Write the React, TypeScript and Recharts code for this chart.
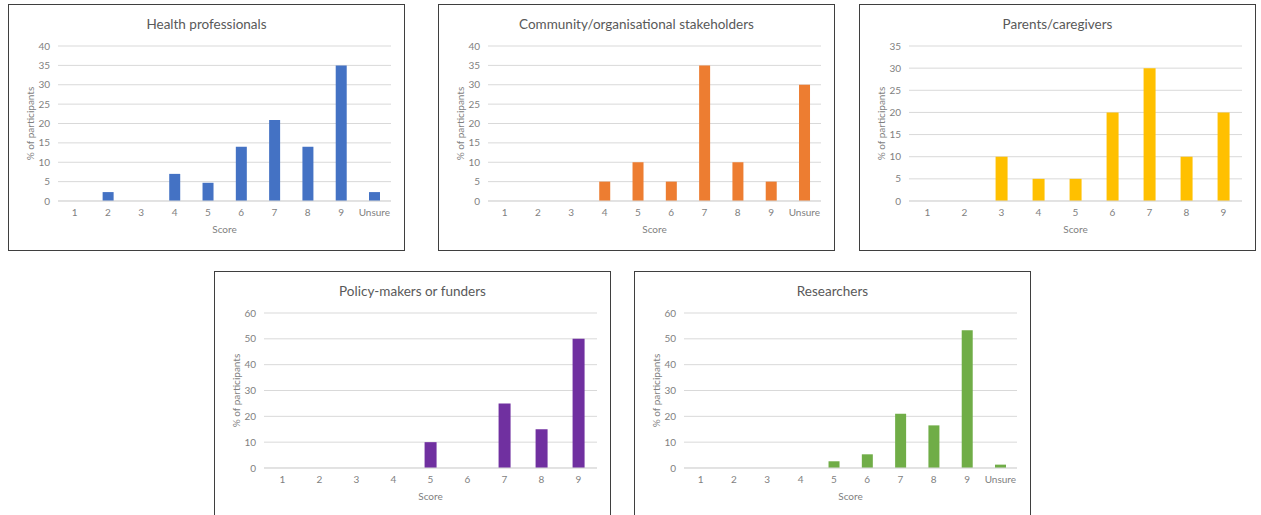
import React from 'react';
import { BarChart, Bar, XAxis, YAxis, CartesianGrid, Label } from 'recharts';

const scoresWithUnsure = ['1', '2', '3', '4', '5', '6', '7', '8', '9', 'Unsure'];
const scoresNoUnsure = ['1', '2', '3', '4', '5', '6', '7', '8', '9'];

const healthValues = [0, 2.3, 0, 7, 4.7, 14, 20.9, 14, 35, 2.3];
const communityValues = [0, 0, 0, 5, 10, 5, 35, 10, 5, 30];
const parentsValues = [0, 0, 10, 5, 5, 20, 30, 10, 20];
const policyValues = [0, 0, 0, 0, 10, 0, 25, 15, 50];
const researcherValues = [0, 0, 0, 0, 2.6, 5.3, 21, 16.5, 53.3, 1.3];

const ticks40 = [0, 5, 10, 15, 20, 25, 30, 35, 40];
const ticks35 = [0, 5, 10, 15, 20, 25, 30, 35];
const ticks60 = [0, 10, 20, 30, 40, 50, 60];

const FONT = 'Lato, "Noto Sans", sans-serif';
const PANEL_W = 397;
const PANEL_H = 247;
const CHART_W = PANEL_W - 2;
const CHART_H = PANEL_H - 2;

type PanelProps = {
  title: string;
  categories: string[];
  values: number[];
  color: string;
  ticks: number[];
  left: number;
  top: number;
};

const YTitle = (props: any) => {
  const vb = props.viewBox || {};
  const cx = 21;
  const cy = (vb.y || 0) + (vb.height || 0) / 2;
  return (
    <text
      x={cx}
      y={cy}
      transform={`rotate(-90, ${cx}, ${cy})`}
      textAnchor="middle"
      dominantBaseline="central"
      fill="#7f7f7f"
      fontSize={10}
      fontFamily={FONT}
    >
      % of participants
    </text>
  );
};

const Panel = ({ title, categories, values, color, ticks, left, top }: PanelProps) => {
  const data = categories.map((c, i) => ({ score: c, value: values[i] }));
  return (
    <div
      style={{
        position: 'absolute',
        left,
        top,
        width: PANEL_W - 2,
        height: PANEL_H - 2,
        border: '1px solid #3f3f3f',
        background: '#ffffff',
        fontFamily: FONT,
      }}
    >
      <div
        style={{
          position: 'absolute',
          left: 0,
          top: 10,
          width: CHART_W,
          textAlign: 'center',
          fontSize: 13.5,
          color: '#595959',
          lineHeight: '18px',
        }}
      >
        {title}
      </div>
      <BarChart
        width={CHART_W}
        height={CHART_H}
        data={data}
        margin={{ top: 41, right: 13, bottom: 0, left: 0 }}
        barCategoryGap="34%"
        style={{ fontFamily: FONT }}
      >
        <CartesianGrid vertical={false} stroke="#d9d9d9" />
        <XAxis
          dataKey="score"
          height={49}
          tickLine={false}
          tickSize={0}
          tickMargin={8}
          axisLine={{ stroke: '#d9d9d9' }}
          tick={{ fill: '#7f7f7f', fontSize: 10, fontFamily: FONT }}
          interval={0}
        >
          <Label value="Score" position="insideBottom" offset={17} fill="#7f7f7f" fontSize={10} fontFamily={FONT} />
        </XAxis>
        <YAxis
          width={49}
          domain={[ticks[0], ticks[ticks.length - 1]]}
          ticks={ticks}
          tickLine={false}
          tickSize={0}
          tickMargin={8}
          axisLine={false}
          tick={{ fill: '#7f7f7f', fontSize: 10, fontFamily: FONT }}
          interval={0}
        >
          <Label content={<YTitle />} />
        </YAxis>
        <Bar dataKey="value" fill={color} isAnimationActive={false} />
      </BarChart>
    </div>
  );
};

export default function App() {
  return (
    <div
      style={{
        position: 'absolute',
        left: 0,
        top: 0,
        width: 1261,
        height: 515,
        background: '#ffffff',
        overflow: 'hidden',
      }}
    >
      <Panel title="Health professionals" categories={scoresWithUnsure} values={healthValues} color="#4472C4" ticks={ticks40} left={8} top={4} />
      <Panel title="Community/organisational stakeholders" categories={scoresWithUnsure} values={communityValues} color="#ED7D31" ticks={ticks40} left={438} top={4} />
      <Panel title="Parents/caregivers" categories={scoresNoUnsure} values={parentsValues} color="#FFC000" ticks={ticks35} left={859} top={4} />
      <Panel title="Policy-makers or funders" categories={scoresNoUnsure} values={policyValues} color="#7030A0" ticks={ticks60} left={214} top={271} />
      <Panel title="Researchers" categories={scoresWithUnsure} values={researcherValues} color="#70AD47" ticks={ticks60} left={634} top={271} />
    </div>
  );
}
